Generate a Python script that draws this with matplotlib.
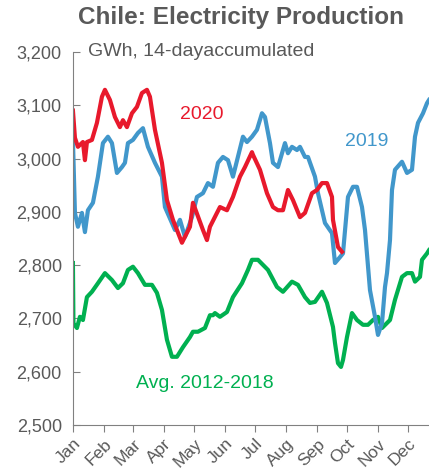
import matplotlib.pyplot as plt

# day of year (0 = Jan 1) and GWh, 14-day accumulated
days_2020 = [0, 2, 5, 10, 12, 14, 19, 24, 29, 32, 37, 42, 47, 50, 54, 59, 64, 69, 74, 77,
             82, 89, 94, 100, 109, 117, 120, 130, 134, 137, 144, 147, 154, 160, 167, 172,
             179, 180, 187, 194, 200, 205, 210, 215, 220, 227, 232, 239, 244, 249, 254,
             259, 260, 265, 269]
vals_2020 = [3090, 3039, 3022, 3031, 2997, 3031, 3035, 3067, 3116, 3129, 3110, 3078, 3059,
             3072, 3059, 3085, 3097, 3123, 3129, 3116, 3054, 2992, 2922, 2885, 2842, 2872,
             2917, 2866, 2847, 2872, 2898, 2909, 2903, 2928, 2966, 2984, 3012, 3007, 2979,
             2935, 2909, 2903, 2903, 2941, 2922, 2890, 2898, 2935, 2941, 2954, 2954, 2928,
             2885, 2834, 2825]
days_2019 = [0, 2, 5, 9, 12, 15, 20, 25, 30, 35, 39, 44, 49, 52, 55, 60, 65, 70, 75, 82, 89,
             92, 99, 102, 107, 112, 119, 124, 130, 135, 140, 145, 150, 155, 160, 170, 174,
             179, 184, 189, 192, 197, 200, 205, 212, 215, 219, 224, 227, 232, 235, 242, 245,
             252, 259, 262, 267, 270, 275, 280, 284, 289, 292, 297, 302, 305, 309, 312, 314,
             317, 319, 322, 329, 334, 339, 342, 345, 350, 354, 356]
vals_2019 = [3035, 2898, 2872, 2898, 2862, 2903, 2917, 2966, 3029, 3041, 3029, 2973, 2984,
             2992, 3029, 3035, 3048, 3057, 3022, 2992, 2966, 2909, 2879, 2866, 2885, 2853,
             2890, 2928, 2935, 2954, 2947, 2992, 3003, 2997, 2966, 3041, 3031, 3041, 3054,
             3085, 3078, 3029, 2992, 2984, 3029, 3010, 3022, 3016, 3022, 3003, 3003, 2966,
             2935, 2879, 2860, 2804, 2815, 2822, 2928, 2947, 2947, 2909, 2866, 2753, 2703,
             2669, 2691, 2759, 2785, 2847, 2941, 2979, 2994, 2973, 2979, 3041, 3067, 3085,
             3104, 3110]
days_avg = [0, 0.5, 4, 7, 10, 14, 19, 25, 32, 39, 45, 50, 55, 60, 65, 72, 79, 84, 89, 94, 99,
            104, 110, 117, 120, 125, 132, 137, 140, 142, 147, 154, 160, 169, 175, 179, 185,
            195, 204, 210, 219, 225, 232, 237, 242, 249, 254, 260, 262, 265, 268, 270, 274,
            279, 284, 290, 295, 300, 305, 309, 317, 322, 329, 334, 339, 342, 347, 349, 354,
            356]
vals_avg = [2804, 2691, 2682, 2703, 2697, 2740, 2750, 2766, 2785, 2772, 2757, 2766, 2791,
            2797, 2785, 2763, 2763, 2748, 2716, 2660, 2628, 2628, 2646, 2665, 2675, 2675,
            2682, 2706, 2706, 2710, 2703, 2712, 2740, 2766, 2791, 2810, 2810, 2791, 2759,
            2750, 2769, 2763, 2740, 2729, 2731, 2750, 2729, 2684, 2654, 2616, 2609, 2622,
            2665, 2710, 2697, 2688, 2688, 2697, 2703, 2682, 2697, 2735, 2778, 2785, 2785,
            2769, 2778, 2810, 2822, 2828]

month_starts = [0, 31, 60, 91, 121, 152, 182, 213, 244, 274, 305, 335]
month_labels = ["Jan", "Feb", "Mar", "Apr", "May", "Jun", "Jul", "Aug", "Sep", "Oct", "Nov", "Dec"]
y_ticks = [2500, 2600, 2700, 2800, 2900, 3000, 3100, 3200]

red = "#E8192C"
blue = "#4197CB"
green = "#00B050"
grey = "#595959"

plt.rcParams["font.family"] = ["Liberation Sans", "DejaVu Sans"]

fig = plt.figure(figsize=(4.29, 4.73), dpi=100)
ax = fig.add_axes([0.170, 0.1015, 0.830, 0.7886])

ax.plot(days_avg, vals_avg, color=green, lw=3, solid_joinstyle="round")
ax.plot(days_2019, vals_2019, color=blue, lw=3, solid_joinstyle="round")
ax.plot(days_2020, vals_2020, color=red, lw=3, solid_joinstyle="round")

ax.set_xlim(0, 356)
ax.set_ylim(2500, 3200)
ax.set_yticks(y_ticks)
ax.set_yticklabels([f"{v:,}" for v in y_ticks], fontsize=13, color=grey)
ax.set_xticks(month_starts)
ax.set_xticklabels(month_labels, rotation=45, ha="right", rotation_mode="anchor",
                   fontsize=12.5, color=grey)
ax.tick_params(axis="y", direction="in", length=5, color="#808080", pad=8)
ax.tick_params(axis="x", direction="out", length=5, color="#808080", pad=3)

for side in ["top", "right"]:
    ax.spines[side].set_visible(False)
for side in ["left", "bottom"]:
    ax.spines[side].set_color("#808080")

ax.text(15, 3200, "GWh, 14-dayaccumulated", fontsize=14, color=grey, va="center")
ax.text(107, 3082, "2020", fontsize=14, color=red, va="center")
ax.text(272, 3032, "2019", fontsize=14, color=blue, va="center")
ax.text(63, 2578, "Avg. 2012-2018", fontsize=14, color=green, va="center")

fig.text(0.562, 0.962, "Chile: Electricity Production", fontsize=17.5, fontweight="bold",
         color=grey, ha="center", va="center")

fig.savefig("out.png", dpi=100)
